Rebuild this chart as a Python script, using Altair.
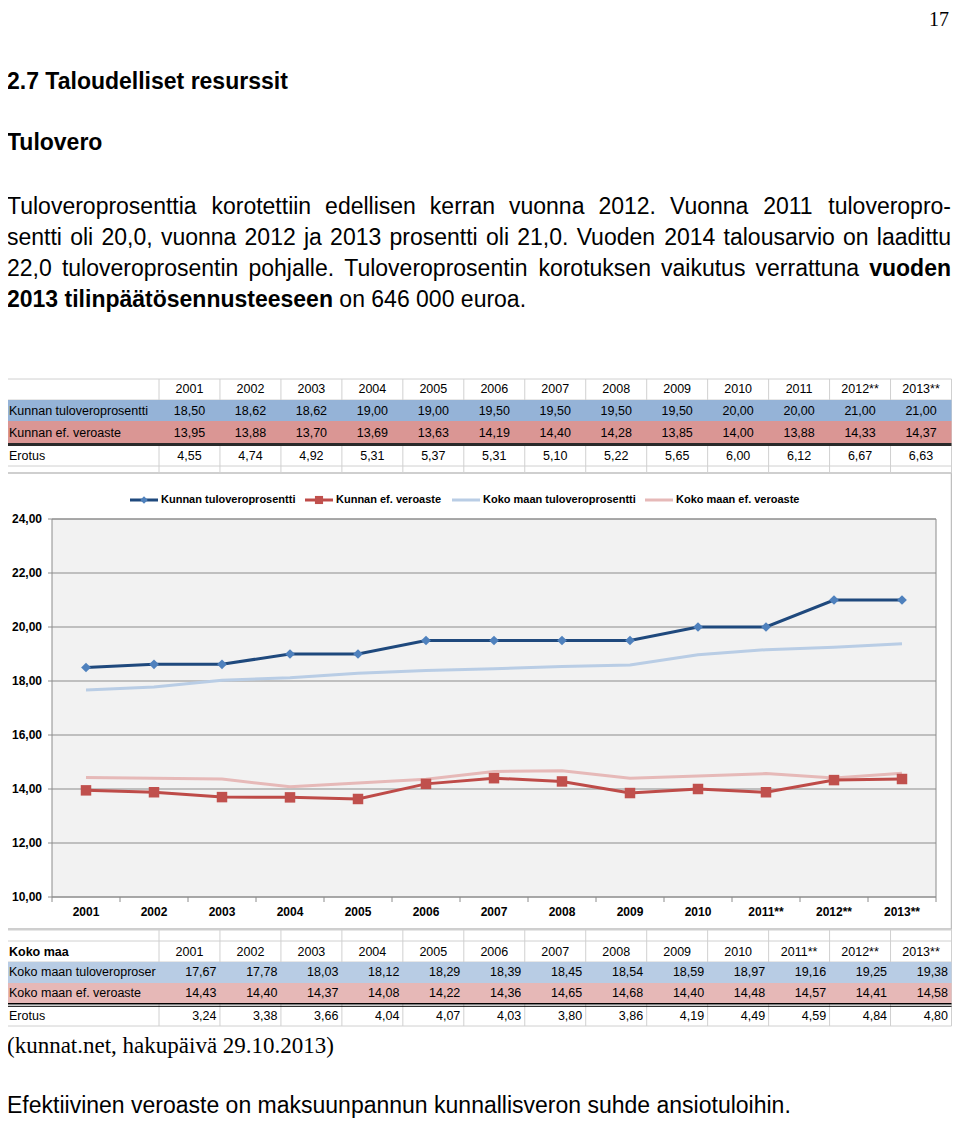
import altair as alt
import pandas as pd

# ---------------- data ----------------
years_kunta = ["2001", "2002", "2003", "2004", "2005", "2006", "2007", "2008",
               "2009", "2010", "2011", "2012**", "2013**"]
kunnan_tuloveroprosentti = [18.50, 18.62, 18.62, 19.00, 19.00, 19.50, 19.50,
                            19.50, 19.50, 20.00, 20.00, 21.00, 21.00]
kunnan_ef_veroaste = [13.95, 13.88, 13.70, 13.69, 13.63, 14.19, 14.40,
                      14.28, 13.85, 14.00, 13.88, 14.33, 14.37]
erotus_kunta = [4.55, 4.74, 4.92, 5.31, 5.37, 5.31, 5.10, 5.22, 5.65,
                6.00, 6.12, 6.67, 6.63]

years_koko = ["2001", "2002", "2003", "2004", "2005", "2006", "2007", "2008",
              "2009", "2010", "2011**", "2012**", "2013**"]
koko_maan_tuloveroprosentti = [17.67, 17.78, 18.03, 18.12, 18.29, 18.39, 18.45,
                               18.54, 18.59, 18.97, 19.16, 19.25, 19.38]
koko_maan_ef_veroaste = [14.43, 14.40, 14.37, 14.08, 14.22, 14.36, 14.65,
                         14.68, 14.40, 14.48, 14.57, 14.41, 14.58]
erotus_koko = [3.24, 3.38, 3.66, 4.04, 4.07, 4.03, 3.80, 3.86, 4.19,
               4.49, 4.59, 4.84, 4.80]

series_names = ["Kunnan tuloveroprosentti", "Kunnan ef. veroaste",
                "Koko maan tuloveroprosentti", "Koko maan ef. veroaste"]
y_ticks = [10, 12, 14, 16, 18, 20, 22, 24]

page_number = "17"
heading = "2.7 Taloudelliset resurssit"
subheading = "Tulovero"
paragraph_lines = [
    [("Tuloveroprosenttia korotettiin edellisen kerran vuonna 2012. Vuonna 2011 tuloveropro-", False)],
    [("sentti oli 20,0, vuonna 2012 ja 2013 prosentti oli 21,0. Vuoden 2014 talousarvio on laadittu", False)],
    [("22,0 tuloveroprosentin pohjalle. Tuloveroprosentin korotuksen vaikutus verrattuna", False), ("vuoden", True)],
    [("2013 tilinpäätösennusteeseen", True), ("on 646 000 euroa.", False)],
]
source_text = "(kunnat.net, hakupäivä 29.10.2013)"
footnote = "Efektiivinen veroaste on maksuunpannun kunnallisveron suhde ansiotuloihin."


def fi(v):
    return f"{v:.2f}".replace(".", ",")


# ---------------- helpers ----------------
SANS = "Liberation Sans, Arial, Helvetica, sans-serif"
SERIF = "Liberation Serif, Times New Roman, serif"
W, H = 944, 1113


def P(x):
    return x - 8


def Q(y):
    return y - 8


ONE = pd.DataFrame({"d": [0]})
layers = []


def add(ch):
    layers.append(ch)


def text_at(s, x, y, size, weight="normal", align="left", font=SANS, color="#000000"):
    add(alt.Chart(ONE).mark_text(text=s, align=align, baseline="middle", fontSize=size,
                                 fontWeight=weight, font=font, color=color)
        .encode(x=alt.value(P(x)), y=alt.value(Q(y))))


def rect(x1, y1, x2, y2, **kw):
    add(alt.Chart(ONE).mark_rect(**kw).encode(
        x=alt.value(P(x1)), x2=alt.value(P(x2)), y=alt.value(Q(y1)), y2=alt.value(Q(y2))))


def hline(x1, x2, y, color, w=1.0):
    add(alt.Chart(ONE).mark_rule(color=color, strokeWidth=w).encode(
        x=alt.value(P(x1)), x2=alt.value(P(x2)), y=alt.value(Q(y))))


def vline(x, y1, y2, color, w=1.0):
    add(alt.Chart(ONE).mark_rule(color=color, strokeWidth=w).encode(
        x=alt.value(P(x)), y=alt.value(Q(y1)), y2=alt.value(Q(y2))))


# Arial / Liberation Sans advance widths (per 1000 em)
def _mk(pairs):
    d = {}
    for chars, w in pairs:
        for c in chars:
            d[c] = w
    return d


REG_W = _mk([("0123456789", 556), (" ,.", 278), ("-()", 333), ("abdeghnopquäö", 556),
             ("ckstvxyz", 500), ("fijlt", 222), ("t", 278), ("f", 278), ("r", 333), ("m", 833),
             ("w", 722), ("ABEKPSVXY", 667), ("CDHNRUw", 722), ("FTLZ", 611), ("GOQ", 778),
             ("I", 278), ("J", 500), ("M", 833), ("W", 944)])
REG_W["L"] = 556
REG_W["w"] = 722
BOLD_W = _mk([("0123456789", 556), (" ,.", 278), ("-()", 333), ("aceksvxyä", 556),
              ("bdghnopquö", 611), ("fijlt", 278), ("tf", 333), ("r", 389), ("m", 889),
              ("w", 778), ("z", 500), ("ABCDHKNRU", 722), ("EPSVXY", 667), ("FTLZ", 611),
              ("GOQ", 778), ("I", 278), ("J", 556), ("M", 833), ("W", 944)])


def measure(s, size, bold):
    tbl = BOLD_W if bold else REG_W
    return sum(tbl.get(c, 556) for c in s) * size / 1000.0


# ---------------- page header ----------------
text_at(page_number, 949, 20, 20, align="right", font=SERIF)
text_at(heading, 7, 82, 23, weight="bold")
text_at(subheading, 7, 143, 23, weight="bold")

# justified paragraph
PSIZE = 23
rows = []
for li, segs in enumerate(paragraph_lines):
    toks = []
    for s, b in segs:
        for w in s.split(" "):
            toks.append((w, b))
    widths = [measure(w, PSIZE, b) for w, b in toks]
    space = measure(" ", PSIZE, False)
    natural = sum(widths) + space * (len(toks) - 1)
    justify = li < 3
    gap = space + ((944 - natural) / (len(toks) - 1) if justify else 0)
    x = 7.0
    for (w, b), wd in zip(toks, widths):
        rows.append({"word": w, "x": P(x), "line": li, "bold": b})
        x += wd + gap
para = pd.DataFrame(rows)
line_scale = alt.Scale(domain=[0, 3], range=[Q(207), Q(300)])
for b in (False, True):
    add(alt.Chart(para[para["bold"] == b]).mark_text(
        align="left", baseline="middle", fontSize=PSIZE, font=SANS,
        fontWeight="bold" if b else "normal", color="#000000").encode(
        x=alt.X("x:Q", scale=None, axis=None),
        y=alt.Y("line:Q", scale=line_scale, axis=None),
        text="word:N"))

# ---------------- tables ----------------
GRID = "#D0D0D0"
TSIZE = 12.5
TX2 = 951.5


def col_scale(domain):
    return alt.Scale(type="point", domain=domain, range=[P(159), P(TX2)], padding=0.5)


def table_vlines(y1, y2):
    vline(6, y1, y2, GRID)
    df = pd.DataFrame({"k": list(range(14))})
    add(alt.Chart(df).mark_rule(color=GRID, strokeWidth=1).encode(
        x=alt.X("k:Q", scale=alt.Scale(domain=[0, 13], range=[P(159), P(TX2)]), axis=None),
        y=alt.value(Q(y1)), y2=alt.value(Q(y2))))


def row_text(cols, texts, y, align="center", dx=0, weight="normal"):
    df = pd.DataFrame({"c": cols, "t": texts})
    add(alt.Chart(df).mark_text(align=align, dx=dx, baseline="middle", fontSize=TSIZE,
                                fontWeight=weight, font=SANS, color="#000000").encode(
        x=alt.X("c:N", scale=col_scale(cols), axis=None),
        y=alt.value(Q(y)), text="t:N"))


# chart frame (drawn first, tables sit on top of its edge)
rect(3, 473, 951.5, 929, fill="#FFFFFF", stroke="#BFBFBF", strokeWidth=1.5)

# top table
table_vlines(379, 473)
for yy in (379, 400, 466, 473):
    hline(6, TX2, yy, GRID)
rect(6, 400, TX2, 421, fill="#95B3D7")
rect(6, 421, TX2, 443, fill="#DA9694")
hline(6, TX2, 444.5, "#2A2A2A", 3)
row_text(years_kunta, years_kunta, 389)
text_at("Kunnan tuloveroprosentti", 9, 411, TSIZE)
row_text(years_kunta, [fi(v) for v in kunnan_tuloveroprosentti], 411)
text_at("Kunnan ef. veroaste", 9, 433, TSIZE)
row_text(years_kunta, [fi(v) for v in kunnan_ef_veroaste], 433)
text_at("Erotus", 9, 456, TSIZE)
row_text(years_kunta, [fi(v) for v in erotus_kunta], 456)

# bottom table
table_vlines(930, 1026)
for yy in (930, 941, 962, 1026):
    hline(6, TX2, yy, GRID)
rect(6, 962, TX2, 983, fill="#B8CCE4")
rect(6, 983, TX2, 1003, fill="#E6B8B7")
hline(6, TX2, 1003.8, "#000000", 1.6)
hline(6, TX2, 1006.3, "#000000", 1)
text_at("Koko maa", 9, 952, TSIZE, weight="bold")
row_text(years_koko, years_koko, 952)
text_at("Koko maan tuloveroproser", 9, 972, TSIZE)
row_text(years_koko, [fi(v) for v in koko_maan_tuloveroprosentti], 972, align="right", dx=27)
text_at("Koko maan ef. veroaste", 9, 993, TSIZE)
row_text(years_koko, [fi(v) for v in koko_maan_ef_veroaste], 993, align="right", dx=27)
text_at("Erotus", 9, 1016, TSIZE)
row_text(years_koko, [fi(v) for v in erotus_koko], 1016, align="right", dx=27)

# ---------------- line chart ----------------
PX1, PX2, PY1, PY2 = 52, 936, 519, 897
xs = alt.Scale(type="point", domain=years_koko, range=[P(PX1), P(PX2)], padding=0.5)
ys = alt.Scale(domain=[10, 24], range=[Q(PY2), Q(PY1)], nice=False, zero=False)

rect(PX1, PY1, PX2, PY2, fill="#F2F2F2", stroke="#8C8C8C", strokeWidth=1)

tick_df = pd.DataFrame({"v": y_ticks, "lab": [fi(v) for v in y_ticks]})
add(alt.Chart(tick_df).mark_rule(color="#8C8C8C", strokeWidth=1).encode(
    y=alt.Y("v:Q", scale=ys, axis=None), x=alt.value(P(48)), x2=alt.value(P(PX2))))
add(alt.Chart(tick_df).mark_text(align="right", baseline="middle", fontSize=12,
                                 fontWeight="bold", font=SANS, color="#000000").encode(
    y=alt.Y("v:Q", scale=ys, axis=None), x=alt.value(P(42)), text="lab:N"))

bnd = pd.DataFrame({"k": list(range(14))})
add(alt.Chart(bnd).mark_rule(color="#8C8C8C", strokeWidth=1).encode(
    x=alt.X("k:Q", scale=alt.Scale(domain=[0, 13], range=[P(PX1), P(PX2)]), axis=None),
    y=alt.value(Q(PY2)), y2=alt.value(Q(PY2 + 5))))

xl = pd.DataFrame({"year": years_koko})
add(alt.Chart(xl).mark_text(baseline="middle", fontSize=12, fontWeight="bold", font=SANS,
                            color="#000000").encode(
    x=alt.X("year:N", scale=xs, axis=None), y=alt.value(Q(912)), text="year:N"))

series_values = [kunnan_tuloveroprosentti, kunnan_ef_veroaste,
                 koko_maan_tuloveroprosentti, koko_maan_ef_veroaste]
line_colors = ["#1F497D", "#BE4B48", "#B9CDE5", "#E6B9B8"]
marker_shapes = ["diamond", "square", None, None]
marker_colors = ["#4F81BD", "#C0504D", None, None]
marker_sizes = [95, 110, 0, 0]

frames = []
for name, vals in zip(series_names, series_values):
    frames.append(pd.DataFrame({"year": years_koko, "i": list(range(len(vals))),
                                "v": vals, "series": name}))

for si in (3, 2, 1, 0):
    df = frames[si]
    add(alt.Chart(df).mark_line(color=line_colors[si], strokeWidth=3).encode(
        x=alt.X("year:N", scale=xs, axis=None),
        y=alt.Y("v:Q", scale=ys, axis=None),
        order=alt.Order("i:Q")))
    if marker_shapes[si]:
        add(alt.Chart(df).mark_point(shape=marker_shapes[si], filled=True, opacity=1,
                                     size=marker_sizes[si], color=marker_colors[si]).encode(
            x=alt.X("year:N", scale=xs, axis=None),
            y=alt.Y("v:Q", scale=ys, axis=None)))

# legend
leg_x = [130, 305, 452, 645]
leg_y = 500
for si in range(4):
    x0 = leg_x[si]
    hline(x0, x0 + 28, leg_y, line_colors[si], 3)
    if marker_shapes[si]:
        add(alt.Chart(ONE).mark_point(shape=marker_shapes[si], filled=True, opacity=1,
                                      size=marker_sizes[si] * 0.6, color=marker_colors[si]).encode(
            x=alt.value(P(x0 + 14)), y=alt.value(Q(leg_y))))
    text_at(series_names[si], x0 + 31, leg_y, 11, weight="bold")

# ---------------- footer ----------------
text_at(source_text, 7, 1046, 23, font=SERIF)
text_at(footnote, 7, 1106, 23)

chart = alt.layer(*layers).resolve_scale(x="independent", y="independent").properties(
    width=W, height=H, padding=0, background="#FFFFFF",
    autosize=alt.AutoSizeParams(type="none")
).configure_view(stroke=None)

chart.save("out.html", embed_options={"renderer": "svg", "actions": False})
